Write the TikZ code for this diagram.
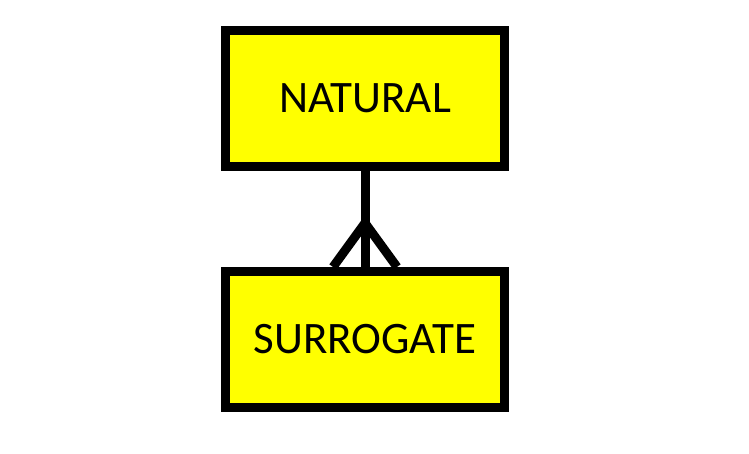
\documentclass[tikz,border=0pt]{standalone}
\usepackage{fontspec}
\setmainfont{Carlito}
\usetikzlibrary{positioning}
\definecolor{entyellow}{RGB}{255, 255, 0}

\begin{document}
\begin{tikzpicture}[
  x=1pt, y=1pt,
  node distance=96pt,
  every node/.style={font=\fontsize{45}{54}\selectfont},
  entity/.style={rectangle, draw=black, line width=9pt, fill=entyellow, minimum width=279pt, minimum height=136pt},
  link/.style={line width=9pt}
]
\useasboundingbox (0,0) rectangle (749,-454);

\node[entity] (natural) at (365,-98.5) {NATURAL};
\node[entity, below=of natural] (surrogate) {SURROGATE};
\coordinate[above=44pt of surrogate.north] (fork);

\draw[link] (natural.south) -- (surrogate.north);
\draw[link] ([xshift=-32pt]surrogate.north) -- (fork) -- ([xshift=32pt]surrogate.north);

\end{tikzpicture}
\end{document}
